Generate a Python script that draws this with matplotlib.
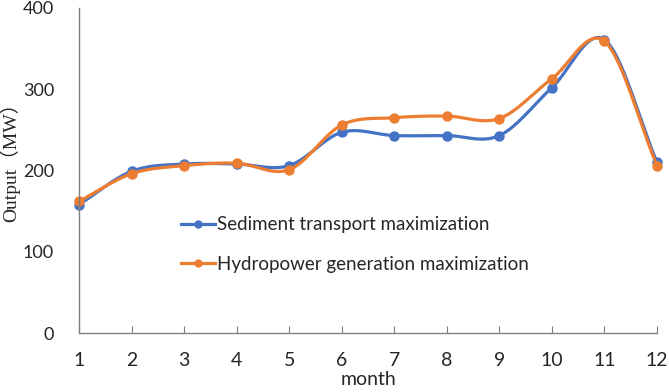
import numpy as np
import matplotlib
matplotlib.use("Agg")
import matplotlib.pyplot as plt

months = [1, 2, 3, 4, 5, 6, 7, 8, 9, 10, 11, 12]
sediment = [158, 199, 208, 208, 206, 247, 243, 243, 243, 302, 361, 210]
hydro = [162, 196, 206, 209, 201, 256, 265, 267, 264, 313, 359, 206]

blue = "#4472C4"
orange = "#ED7D31"


def smooth(x, y, n=30):
    # Excel-like smoothed line (Catmull-Rom through the points)
    x = np.asarray(x, float)
    y = np.asarray(y, float)
    px = np.concatenate([[2 * x[0] - x[1]], x, [2 * x[-1] - x[-2]]])
    py = np.concatenate([[2 * y[0] - y[1]], y, [2 * y[-1] - y[-2]]])
    xs, ys = [], []
    t = np.linspace(0, 1, n)
    for i in range(1, len(px) - 2):
        for p, out in ((px, xs), (py, ys)):
            p0, p1, p2, p3 = p[i - 1], p[i], p[i + 1], p[i + 2]
            seg = 0.5 * ((2 * p1) + (-p0 + p2) * t
                         + (2 * p0 - 5 * p1 + 4 * p2 - p3) * t ** 2
                         + (-p0 + 3 * p1 - 3 * p2 + p3) * t ** 3)
            out.extend(seg)
    return xs, ys


sans = ["Lato", "DejaVu Sans"]
txt = "#262626"

fig = plt.figure(figsize=(6.69, 3.92), dpi=100)
ax = fig.add_axes([79 / 669, 1 - 333 / 392, 578 / 669, 325 / 392])

for vals, col, lab in ((sediment, blue, "Sediment transport maximization"),
                       (hydro, orange, "Hydropower generation maximization")):
    sx, sy = smooth(months, vals)
    ax.plot(sx, sy, color=col, lw=2.3, solid_capstyle="round", clip_on=False)
    ax.plot(months, vals, "o", color=col, ms=6.5, clip_on=False)
    ax.plot([], [], "-o", color=col, lw=2.3, ms=5, label=lab)

ax.set_xlim(1, 12)
ax.set_ylim(0, 400)
ax.set_xticks(months)
ax.set_yticks([0, 100, 200, 300, 400])
for s in ("top", "right"):
    ax.spines[s].set_visible(False)
for s in ("left", "bottom"):
    ax.spines[s].set_color("#7f7f7f")
    ax.spines[s].set_linewidth(1.0)
ax.tick_params(axis="x", direction="in", length=5, color="#7f7f7f", pad=14,
               labelcolor=txt, labelsize=14)
ax.tick_params(axis="y", length=0, pad=18, labelcolor=txt, labelsize=13)
for lbl in ax.get_xticklabels() + ax.get_yticklabels():
    lbl.set_family(sans)

ax.set_xlabel("month", family=sans, fontsize=14, color=txt, labelpad=1)
fig.text(10 / 669, 1 - 157 / 392, "Output（MW）",
         family=["Liberation Serif", "Noto Sans CJK SC"], fontsize=14,
         color=txt, rotation=90, ha="center", va="center")

ax.legend(loc="center left", bbox_to_anchor=(0.16, 0.272), frameon=False,
          prop={"family": sans, "size": 13.5}, handlelength=1.8,
          handletextpad=0.15, labelspacing=1.2, borderpad=0, labelcolor=txt)

fig.savefig("out.png", dpi=100)
